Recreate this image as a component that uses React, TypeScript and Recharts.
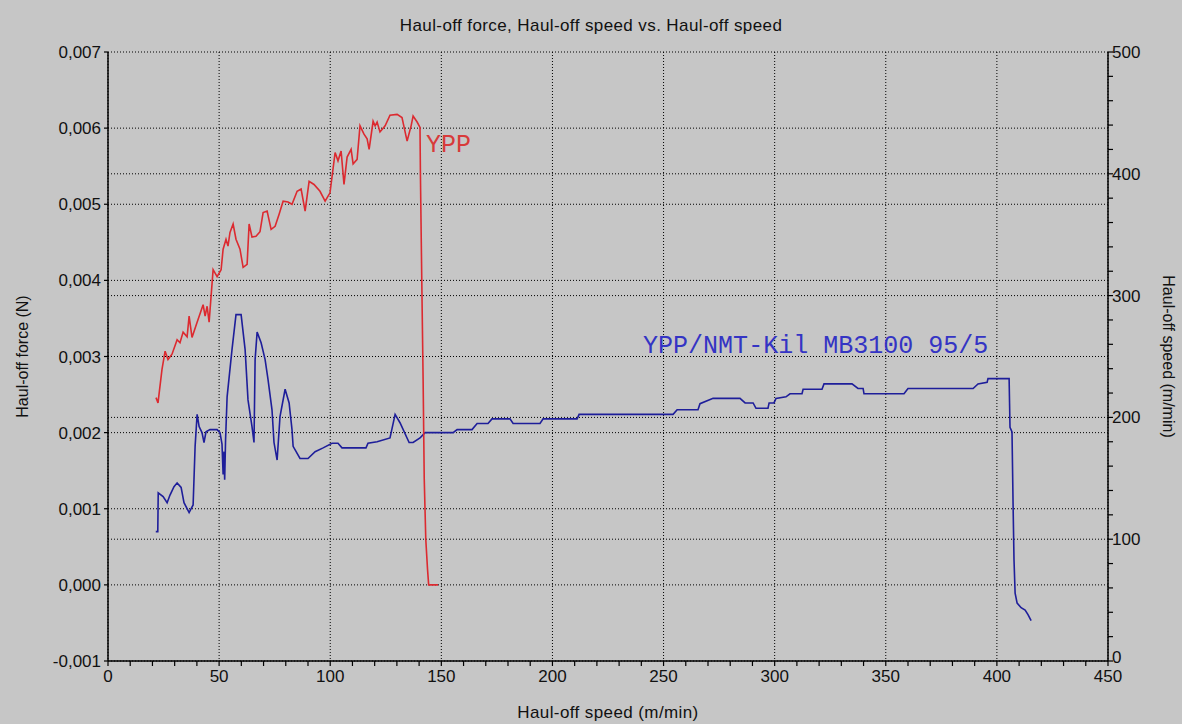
import { LineChart, Line, XAxis, YAxis, CartesianGrid, ReferenceDot, Label } from "recharts";

// YPP: haul-off speed (m/min) and haul-off force (10^-3 N)
const yppSpeed = [
  21.6, 22.5, 24.3, 25.7, 27.0, 28.8, 31.1, 32.4, 33.8, 35.6, 36.5, 37.8, 40.1, 42.8, 43.7, 44.6, 45.5,
  47.3, 49.1, 50.9, 51.8, 53.1, 54.0, 54.9, 56.3, 57.6, 59.4, 60.8, 62.6, 63.5, 64.8, 66.6, 68.4, 69.8,
  71.6, 73.4, 75.2, 77.0, 78.8, 81.0, 82.8, 85.1, 86.9, 88.7, 90.5, 92.7, 95.4, 97.7, 99.9, 102.2, 103.5,
  104.9, 106.2, 107.6, 109.4, 110.3, 112.1, 113.4, 115.2, 116.6, 117.5, 119.3, 120.2, 121.1, 122.4, 124.7,
  126.9, 130.1, 132.3, 134.6, 136.4, 137.3, 139.1, 140.4, 140.6, 141.2, 141.8, 142.3, 143.0, 143.8, 144.3, 148.5,
];
const yppForce = [
  2.46, 2.39, 2.83, 3.07, 2.96, 3.03, 3.22, 3.18, 3.32, 3.26, 3.53, 3.25, 3.45, 3.68, 3.53, 3.66, 3.45,
  4.14, 4.05, 4.14, 4.41, 4.54, 4.45, 4.63, 4.74, 4.54, 4.41, 4.17, 4.21, 4.74, 4.57, 4.58, 4.64, 4.89,
  4.91, 4.67, 4.71, 4.87, 5.04, 5.03, 5.0, 5.17, 5.2, 4.91, 5.3, 5.26, 5.17, 5.04, 5.15, 5.68, 5.57,
  5.7, 5.26, 5.62, 5.72, 5.53, 5.59, 6.03, 5.92, 5.86, 5.72, 6.09, 6.03, 6.08, 5.95, 6.03,
  6.17, 6.18, 6.14, 5.83, 6.03, 6.16, 6.08, 6.01, 5.37, 4.0, 2.7, 1.4, 0.6, 0.2, 0.0, 0.0,
];

// YPP/NMT-Kil MB3100 95/5
const blendSpeed = [
  21.5, 22.4, 22.6, 24.8, 26.6, 27.9, 29.7, 31.1, 32.9, 34.2, 36.5, 38.3, 39.2, 40.1, 41.0, 42.3, 43.2,
  44.1, 45.9, 49.1, 50.4, 51.3, 51.8, 52.2, 52.5, 52.9, 53.6, 55.8, 57.6, 59.9, 61.7, 63.0, 64.8, 65.7,
  66.2, 67.1, 68.9, 70.7, 72.0, 73.8, 74.7, 76.1, 77.4, 79.7, 81.5, 82.8, 83.3, 86.4, 90.0, 93.2, 96.8,
  100.8, 103.5, 105.3, 116.1, 117.0, 121.1, 126.9, 129.2, 131.4, 135.5, 137.3, 140.4, 142.7, 155.3, 157.1,
  163.8, 166.1, 171.0, 172.8, 180.9, 182.3, 194.4, 195.8, 211.1, 212.0, 254.3, 256.1, 265.5, 266.4, 272.3,
  284.4, 286.7, 290.3, 291.6, 297.0, 297.5, 299.7, 300.6, 305.1, 306.9, 312.3, 312.8, 321.3, 322.2, 334.8,
  337.5, 339.8, 340.2, 358.2, 360.0, 389.3, 391.5, 395.6, 396.0, 405.5, 405.9, 406.8, 407.3, 407.7, 408.2,
  409.1, 410.9, 412.7, 414.0, 415.4,
];
const blendForce = [
  0.7, 0.7, 1.21, 1.16, 1.08, 1.18, 1.29, 1.34, 1.28, 1.08, 0.95, 1.05, 1.82, 2.24, 2.08, 2.0, 1.87,
  2.01, 2.04, 2.04, 2.0, 1.85, 1.45, 1.75, 1.38, 1.9, 2.47, 3.09, 3.55, 3.55, 3.09, 2.43, 2.08, 1.87,
  2.96, 3.32, 3.18, 2.96, 2.7, 2.3, 1.87, 1.64, 2.21, 2.57, 2.39, 2.04, 1.82, 1.66, 1.66, 1.75, 1.8,
  1.86, 1.86, 1.8, 1.8, 1.86, 1.88, 1.93, 2.24, 2.13, 1.87, 1.87, 1.93, 2.0, 2.0, 2.04,
  2.04, 2.12, 2.12, 2.18, 2.18, 2.12, 2.12, 2.18, 2.18, 2.24, 2.24, 2.3, 2.3, 2.38, 2.45,
  2.45, 2.39, 2.39, 2.32, 2.32, 2.39, 2.39, 2.45, 2.47, 2.51, 2.51, 2.57, 2.57, 2.64, 2.64,
  2.58, 2.58, 2.51, 2.51, 2.58, 2.58, 2.64, 2.66, 2.71, 2.71, 2.07, 2.01, 1.03, 0.33, -0.11,
  -0.24, -0.3, -0.33, -0.39, -0.47,
];

const speedTicks = [
  0, 10, 20, 30, 40, 50, 60, 70, 80, 90, 100, 110, 120, 130, 140, 150, 160, 170, 180, 190, 200, 210, 220,
  230, 240, 250, 260, 270, 280, 290, 300, 310, 320, 330, 340, 350, 360, 370, 380, 390, 400, 410, 420, 430,
  440, 450,
];
const speedLabels = [0, 50, 100, 150, 200, 250, 300, 350, 400, 450];
const forceTicks = [-0.001, 0, 0.001, 0.002, 0.003, 0.004, 0.005, 0.006, 0.007];
const rightTicks = [
  0, 20, 40, 60, 80, 100, 120, 140, 160, 180, 200, 220, 240, 260, 280, 300, 320, 340, 360, 380, 400, 420,
  440, 460, 480, 500,
];
const rightLabels = [0, 100, 200, 300, 400, 500];
const rightGrid = [100, 200, 300, 400];
// right (speed) scale range, used only to register the axis
const rightRange = [
  { speed: 0, right: 0 },
  { speed: 450, right: 500 },
];

const yppLabel = { speed: 143.1, force: 0.00568, text: "YPP" };
const blendLabel = { speed: 240.8, force: 0.00305, text: "YPP/NMT-Kil MB3100 95/5" };

const yppData = yppSpeed.map((s, i) => ({ speed: s, force: yppForce[i] / 1000 }));
const blendData = blendSpeed.map((s, i) => ({ speed: s, force: blendForce[i] / 1000 }));

const BG = "#c6c6c6";
const RED = "#dc2a30";
const BLUE = "#1e1e9a";

const fmtForce = (v: number) => v.toFixed(3).replace(".", ",");

const SpeedTick = (props: any) => {
  const { x, y, payload } = props;
  const major = speedLabels.includes(payload.value);
  return (
    <g>
      <line x1={x} y1={y} x2={x} y2={y + 5} stroke="#000" strokeWidth={1.2} />
      {major && (
        <text x={x} y={y + 21} textAnchor="middle" fontSize={17} fill="#111">
          {payload.value}
        </text>
      )}
    </g>
  );
};

const RightTick = (props: any) => {
  const { x, y, payload } = props;
  const major = rightLabels.includes(payload.value);
  return (
    <g>
      <line x1={x} y1={y} x2={x + 5} y2={y} stroke="#000" strokeWidth={1.2} />
      {major && (
        <text x={x + 4} y={payload.value === 0 ? y + 2 : y + 6} textAnchor="start" fontSize={17} fill="#111">
          {payload.value}
        </text>
      )}
    </g>
  );
};

const seriesLabel = (text: string, color: string) => (props: any) => (
  <text x={props.cx} y={props.cy} fill={color} fontSize={25} fontFamily="Liberation Mono, monospace">
    {text}
  </text>
);

export default function App() {
  return (
    <div
      style={{
        position: "fixed",
        left: 0,
        top: 0,
        width: 1182,
        height: 724,
        background: BG,
        fontFamily: "'Liberation Sans', Arial, sans-serif",
      }}
    >
      <div
        style={{
          position: "absolute",
          top: 16,
          width: 1182,
          textAlign: "center",
          fontSize: 17,
          letterSpacing: 0.4,
          color: "#111",
        }}
      >
        Haul-off force, Haul-off speed vs. Haul-off speed
      </div>
      <LineChart width={1182} height={724} margin={{ top: 52, right: 0, bottom: 0, left: 0 }}>
        <CartesianGrid
          yAxisId="left"
          stroke="#000"
          strokeDasharray="1 2"
          verticalValues={speedLabels}
          horizontalValues={forceTicks}
        />
        <CartesianGrid
          yAxisId="right"
          stroke="#000"
          strokeDasharray="1 2"
          vertical={false}
          horizontalValues={rightGrid}
        />
        <XAxis
          type="number"
          dataKey="speed"
          domain={[0, 450]}
          ticks={speedTicks}
          interval={0}
          height={63}
          tickSize={0}
          tickMargin={0}
          tickLine={false}
          tick={<SpeedTick />}
          axisLine={{ stroke: "#000", strokeWidth: 1.5 }}
        >
          <Label
            content={(p: any) => (
              <text x={p.viewBox.x + p.viewBox.width / 2} y={p.viewBox.y + 57} textAnchor="middle" fontSize={17} letterSpacing={0.4} fill="#111">
                Haul-off speed (m/min)
              </text>
            )}
          />
        </XAxis>
        <YAxis
          yAxisId="left"
          type="number"
          domain={[-0.001, 0.007]}
          ticks={forceTicks}
          interval={0}
          width={108}
          tickFormatter={fmtForce}
          tickSize={4}
          tickMargin={3}
          tick={{ fontSize: 17, fill: "#111" }}
          tickLine={{ stroke: "#000", strokeWidth: 1.2 }}
          axisLine={{ stroke: "#000", strokeWidth: 1.5 }}
        >
          <Label
            content={(p: any) => {
              const cx = p.viewBox.x + 22;
              const cy = p.viewBox.y + p.viewBox.height / 2;
              return (
                <text x={cx} y={cy} transform={`rotate(-90 ${cx} ${cy})`} textAnchor="middle" dominantBaseline="central" fontSize={16} fill="#111">
                  Haul-off force (N)
                </text>
              );
            }}
          />
        </YAxis>
        <YAxis
          yAxisId="right"
          orientation="right"
          type="number"
          domain={[0, 500]}
          allowDataOverflow
          ticks={rightTicks}
          interval={0}
          width={74}
          tickSize={0}
          tickMargin={0}
          tickLine={false}
          tick={<RightTick />}
          axisLine={{ stroke: "#000", strokeWidth: 1.5 }}
        >
          <Label
            content={(p: any) => {
              const cx = p.viewBox.x + 60;
              const cy = p.viewBox.y + p.viewBox.height / 2;
              return (
                <text x={cx} y={cy} transform={`rotate(90 ${cx} ${cy})`} textAnchor="middle" dominantBaseline="central" fontSize={16} fill="#111">
                  Haul-off speed (m/min)
                </text>
              );
            }}
          />
        </YAxis>
        <Line
          yAxisId="right"
          data={rightRange}
          dataKey="right"
          stroke="none"
          strokeWidth={0}
          dot={false}
          activeDot={false}
          legendType="none"
          isAnimationActive={false}
        />
        <Line
          yAxisId="left"
          data={blendData}
          dataKey="force"
          type="linear"
          stroke={BLUE}
          strokeWidth={1.6}
          dot={false}
          isAnimationActive={false}
        />
        <Line
          yAxisId="left"
          data={yppData}
          dataKey="force"
          type="linear"
          stroke={RED}
          strokeWidth={1.6}
          dot={false}
          isAnimationActive={false}
        />
        <ReferenceDot
          yAxisId="left"
          x={yppLabel.speed}
          y={yppLabel.force}
          r={0}
          shape={seriesLabel(yppLabel.text, "#d83a3a")}
        />
        <ReferenceDot
          yAxisId="left"
          x={blendLabel.speed}
          y={blendLabel.force}
          r={0}
          shape={seriesLabel(blendLabel.text, "#3434c4")}
        />
      </LineChart>
    </div>
  );
}
